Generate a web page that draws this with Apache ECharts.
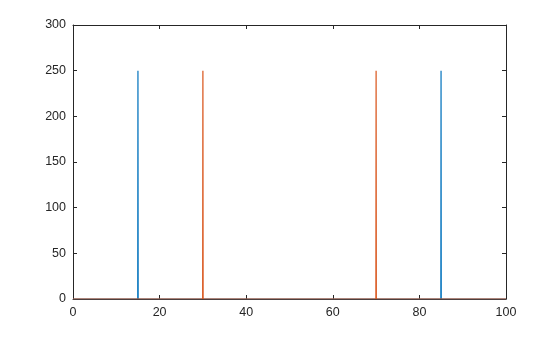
<!DOCTYPE html>
<html>
<head>
<meta charset="utf-8">
<script src="https://cdn.jsdelivr.net/npm/echarts@6/dist/echarts.min.js"></script>
<style>html,body{margin:0;padding:0;background:#fff;}#c{width:560px;height:337px;}</style>
</head>
<body>
<div id="c"></div>
<script>
var blueX = [0, 14.95, 15, 15.05, 84.95, 85, 85.05, 100];
var blueY = [0, 0, 250, 0, 0, 250, 0, 0];
var orangeX = [0, 29.95, 30, 30.05, 69.95, 70, 70.05, 100];
var orangeY = [0, 0, 250, 0, 0, 250, 0, 0];
var xTicks = [0, 20, 40, 60, 80, 100];
var yTicks = [0, 50, 100, 150, 200, 250, 300];

function pairs(xs, ys) { return xs.map(function (x, i) { return [x, ys[i]]; }); }

var axisCol = '#262626';
var font = 'Liberation Sans, Arial, sans-serif';
function xAx(pos, showLabel) {
  return {
    type: 'value', position: pos, min: 0, max: 100, interval: 20,
    axisLine: { show: true, onZero: false, lineStyle: { color: axisCol, width: 1 } },
    axisTick: { show: true, inside: true, length: 4, lineStyle: { color: axisCol } },
    axisLabel: { show: showLabel, color: axisCol, fontSize: 12.5, fontFamily: font, margin: 7 },
    splitLine: { show: false }
  };
}
function yAx(pos, showLabel) {
  return {
    type: 'value', position: pos, min: 0, max: 300, interval: 50,
    axisLine: { show: true, onZero: false, lineStyle: { color: axisCol, width: 1 } },
    axisTick: { show: true, inside: true, length: 4, lineStyle: { color: axisCol } },
    axisLabel: { show: showLabel, color: axisCol, fontSize: 12.5, fontFamily: font, margin: 7 },
    splitLine: { show: false }
  };
}

var chart = echarts.init(document.getElementById('c'), null, { renderer: 'canvas' });
chart.setOption({
  animation: false,
  backgroundColor: '#fff',
  grid: { left: 73, right: 54, top: 25, bottom: 38, containLabel: false },
  xAxis: [xAx('bottom', true), xAx('top', false)],
  yAxis: [yAx('left', true), yAx('right', false)],
  series: [
    { type: 'line', data: pairs(blueX, blueY), showSymbol: false, lineStyle: { color: '#0072BD', width: 1.2 }, itemStyle: { color: '#0072BD' }, xAxisIndex: 0, yAxisIndex: 0 },
    { type: 'line', data: pairs(orangeX, orangeY), showSymbol: false, lineStyle: { color: '#D95319', width: 1.2 }, itemStyle: { color: '#D95319' }, xAxisIndex: 0, yAxisIndex: 0 }
  ]
});
</script>
</body>
</html>
